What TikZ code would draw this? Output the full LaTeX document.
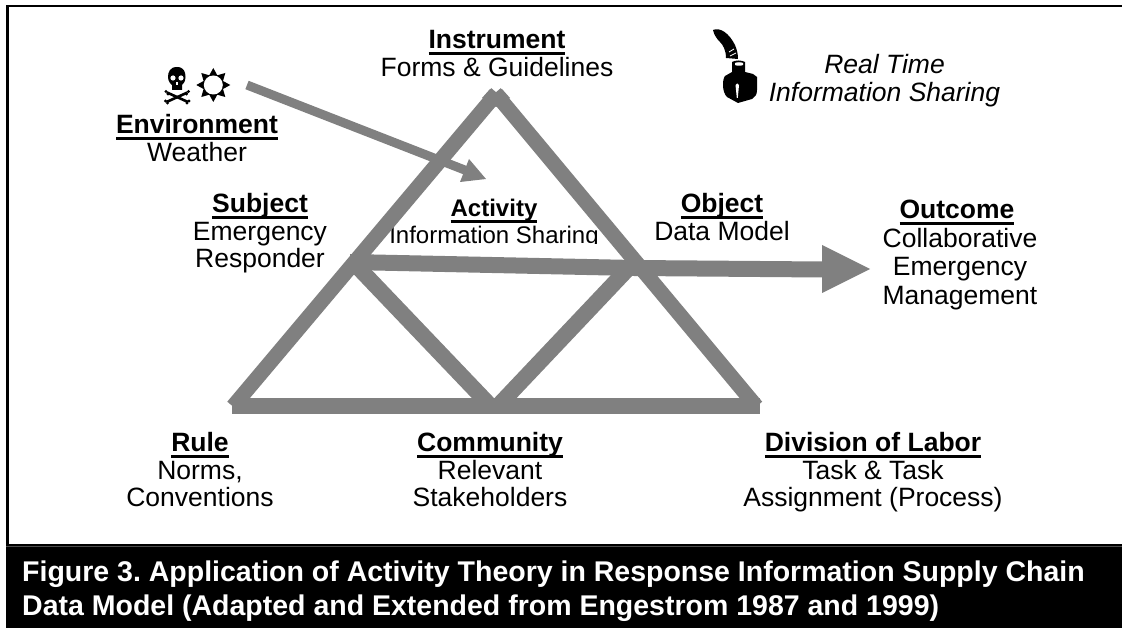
\documentclass[tikz,border=0pt]{standalone}
\usepackage{fontspec}
\setmainfont{Liberation Sans}
\frenchspacing
\definecolor{bargray}{gray}{0.5}
\tikzset{
  lbl/.style={align=center,inner sep=0pt,font=\fontsize{26.5}{27.7}\selectfont,anchor=north},
  capt/.style={align=left,inner sep=0pt,text=white,font=\fontsize{28.5}{34}\selectfont\bfseries,anchor=north west},
  bar/.style={draw=bargray,line width=16pt},
  outer/.style={draw=bargray,line width=15pt},
  thin/.style={draw=bargray,line width=9pt}
}
\newsavebox{\hdbox}
\newcommand{\hd}[1]{\sbox{\hdbox}{\textbf{#1}}\rlap{\rule[-0.26em]{\wd\hdbox}{0.11em}}\usebox{\hdbox}}
\begin{document}
\begin{tikzpicture}[x=1pt,y=-1pt]
\useasboundingbox (0,0) rectangle (1122,628);
\fill[white] (0,0) rectangle (1122,628);
\fill[black] (6,544) rectangle (1122,628);
\fill[black!70] (6,546) rectangle (1122,547);
\fill[black] (6,5) rectangle (1122,7.5);
\fill[black] (6,5) rectangle (8.5,545);
% labels (the Activity text is cut off by the bar's box)
\node[lbl] (instr) at (497,30) {\hd{Instrument}\\Forms \& Guidelines};
\node[lbl] (env) at (197,114) {\hd{Environment}\\Weather};
\node[lbl] (subj) at (260,193) {\hd{Subject}\\Emergency\\Responder};
\node[lbl,font=\fontsize{24}{27}\selectfont] (act) at (494,199) {\hd{Activity}\\Information Sharing};
\fill[white] (388,244) rectangle (600,250);
\node[lbl] (obj) at (722,193) {\hd{Object}\\Data Model};
\node[lbl,font=\fontsize{26.5}{28.8}\selectfont] (out) at (960,199.5) {\hd{Outcome}\hspace*{6pt}\\Collaborative\\Emergency\\Management};
\node[lbl] (rule) at (200,432) {\hd{Rule}\\Norms,\\Conventions};
\node[lbl] (comm) at (490,432) {\hd{Community}\\Relevant\\Stakeholders};
\node[lbl] (div) at (873,432) {\hd{Division of Labor}\\Task \& Task\\Assignment (Process)};
\node[lbl,font=\fontsize{26.5}{27.7}\selectfont\itshape] (rt) at (884.5,54) {Real Time\\Information Sharing};
\node[capt] (cap) at (22,561) {Figure 3. Application of Activity Theory in Response Information Supply Chain\\Data Model (Adapted and Extended from Engestrom 1987 and 1999)};
% triangle
\coordinate (topl) at (497,93);
\coordinate (topr) at (495,93);
\coordinate (bl) at (233,406.5);
\coordinate (br) at (756.4,406.5);
\coordinate (bas) at (232,406);
\coordinate (bae) at (760,406);
\coordinate (ml) at (490.5,406);
\coordinate (mr) at (498,406);
\coordinate (sjl) at (353,262);
\coordinate (obl) at (631,265.5);
\coordinate (sj) at (350,262);
\coordinate (ob) at (634,268);
\coordinate (hb) at (823,269.5);
\draw[outer] (topl) -- (bl);
\draw[outer] (topr) -- (br);
\fill[bargray] (490,89) -- (496,94) -- (502,89) -- (510,98) -- (496,107) -- (482,98) -- cycle;
\draw[bar] (bas) -- (bae);
\draw[bar] (sjl) -- (ml);
\draw[bar] (obl) -- (mr);
\draw[bar] (sj) -- (ob) -- (hb);
\fill[bargray] (822,245) -- (870,269) -- (822,293) -- cycle;
% environment arrow
\coordinate (ea) at (247,85);
\coordinate (eb) at (466,170.5);
\draw[thin] (ea) -- (eb);
\fill[bargray] (486,179) -- (460,182) -- (469,159) -- cycle;
% skull and crossbones
\fill[black] (177,67) .. controls (170,67) and (168,72) .. (168,77) .. controls (168,82) and (171,84) .. (172,85) -- (172,90) -- (182,90) -- (182,85) .. controls (183,84) and (185.5,82) .. (185.5,77) .. controls (185.5,72) and (184,67) .. (177,67) -- cycle;
\fill[white] (173,78) circle (2.6);
\fill[white] (181,78) circle (2.6);
\fill[white] (176.4,82) rectangle (177.6,85);
\draw[black,line width=2.6pt] (167,92.5) -- (188,102);
\draw[black,line width=2.6pt] (187.5,92.5) -- (166.5,102);
\foreach \p in {(166,91.5),(168,94),(188.5,91.5),(186.5,94),(165.5,101),(167.5,103),(189,101),(187,103)} \fill[black] \p circle (1.6);
% sun
\begin{scope}[shift={(213.3,85)}]
\fill[black] (90:17) \foreach \a in {90,135,...,405} { -- (\a+22.5:10.5) -- (\a+45:17) } -- cycle;
\fill[white] (0,0) circle (9.5);
\end{scope}
% quill
\fill[black] (713,30) .. controls (720,27) and (729,33) .. (735,45) .. controls (737,50) and (738,54) .. (738,59) -- (726,58) .. controls (726,50) and (723,45) .. (720,42) .. controls (717,39) and (714,35) .. (713,30) -- cycle;
\draw[white,line width=0.8pt] (729,52) -- (734,49);
\draw[white,line width=0.8pt] (730,56) -- (736,53);
% ink bottle
\fill[black] (732,62) .. controls (735,60) and (742,60) .. (745,62) -- (745,72) -- (753,74) -- (757,77) -- (757,90) .. controls (757,95) and (755,97) .. (752,99) -- (738,103) -- (727,97) .. controls (722,92) and (722,80) .. (725,76) -- (732,72) -- cycle;
\fill[white] (735,63) .. controls (737,62) and (741,62) .. (743,63) -- (743,65) .. controls (741,66) and (737,66) .. (735,65) -- cycle;
\fill[white] (735.5,85) .. controls (736.5,83) and (738,83) .. (739,85) -- (737.8,98) -- (736.8,98) -- cycle;
\end{tikzpicture}
\end{document}
